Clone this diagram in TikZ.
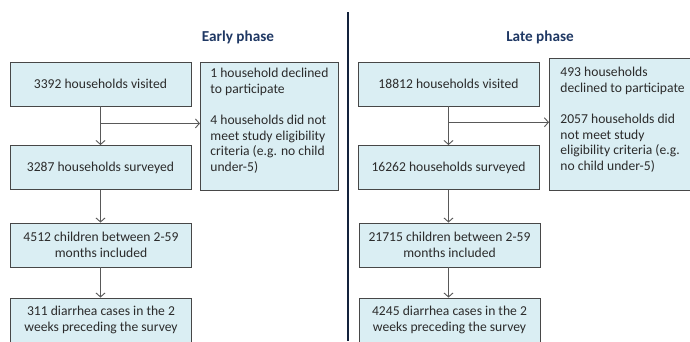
\documentclass[tikz,border=0pt]{standalone}
\usepackage{fontspec}
\setmainfont{Carlito}
\usepackage{tikz}
\usetikzlibrary{arrows.meta,
				calc}
\definecolor{boxfill}{HTML}{DAEEF3}
\definecolor{boxline}{HTML}{474747}
\definecolor{titleblue}{HTML}{1F3864}
\definecolor{textgray}{HTML}{2B2B2B}
\definecolor{flowgray}{HTML}{595959}

\begin{document}
\begin{tikzpicture}[x=1pt,y=-1pt,
		stage/.style={draw=boxline, fill=boxfill, line width=0.9pt, minimum width=181pt, minimum height=44pt,
			inner sep=0pt, align=center, text=textgray, font=\fontsize{13.6}{15.8}\selectfont},
		excl/.style={draw=boxline, fill=boxfill, line width=0.9pt, anchor=north west, inner xsep=10pt,
			text=textgray, font=\fontsize{13.6}{15.7}\selectfont},
		phase/.style={text=titleblue, font=\fontsize{15.2}{18}\selectfont\bfseries},
		flow/.style={draw=flowgray, line width=0.9pt, -{Straight Barb[length=4pt,width=9pt]}}]
		\useasboundingbox (0,0) rectangle (690,341);
		\clip (0,0) rectangle (690,341);

		% early phase
		\node[phase] (early) at (238,37) {Early phase};
		\node[stage] (v1) at (100.5,84) {3392 households visited};
		\node[stage] (s1) at (100.5,167.5) {3287 households surveyed};
		\node[stage] (c1) at (101,245) {4512 children between 2-59\\months included};
		\node[stage] (d1) at (101,320) {311 diarrhea cases in the 2\\weeks preceding the survey};
		\node[excl, inner ysep=5.5pt] (x1) at (200,62) {\parbox[t][117pt][t]{118pt}{\raggedright
			1 household declined\\to participate\\[15.7pt]4 households did not\\meet study eligibility\\criteria (e.g. no child\\under-5)}};

		\draw[flow] (v1.south) -- (s1.north);
		\coordinate (j1) at ($(v1.south)!0.44!(s1.north)$);
		\draw[flow] (j1) -- (j1 -| x1.west);
		\draw[flow] (s1.south) -- (c1.north -| s1.south);
		\draw[flow] (c1.south -| s1.south) -- (d1.north -| s1.south);

		% divider
		\draw[titleblue!60!black, line width=1.1pt] (348,12) -- (348,341);

		% late phase
		\node[phase] (late) at (540,37) {Late phase};
		\node[stage] (v2) at (448.5,84) {18812 households visited};
		\node[stage] (s2) at (448.5,167.5) {16262 households surveyed};
		\node[stage] (c2) at (449.5,245) {21715 children between 2-59\\months included};
		\node[stage] (d2) at (449.5,320) {4245 diarrhea cases in the 2\\weeks preceding the survey};
		\node[excl, inner ysep=8.5pt, inner xsep=11pt] (x2) at (549,58) {\parbox[t][115pt][t]{140pt}{\raggedright
			493 households\\declined to participate\\[15.7pt]2057 households did\\not meet study\\eligibility criteria (e.g.\\no child under-5)}};

		\draw[flow] (v2.south) -- (s2.north);
		\coordinate (j2) at ($(v2.south)!0.41!(s2.north)$);
		\draw[flow] (j2) -- (j2 -| x2.west);
		\draw[flow] (s2.south) -- (c2.north -| s2.south);
		\draw[flow] (c2.south -| s2.south) -- (d2.north -| s2.south);
	\end{tikzpicture}
\end{document}
